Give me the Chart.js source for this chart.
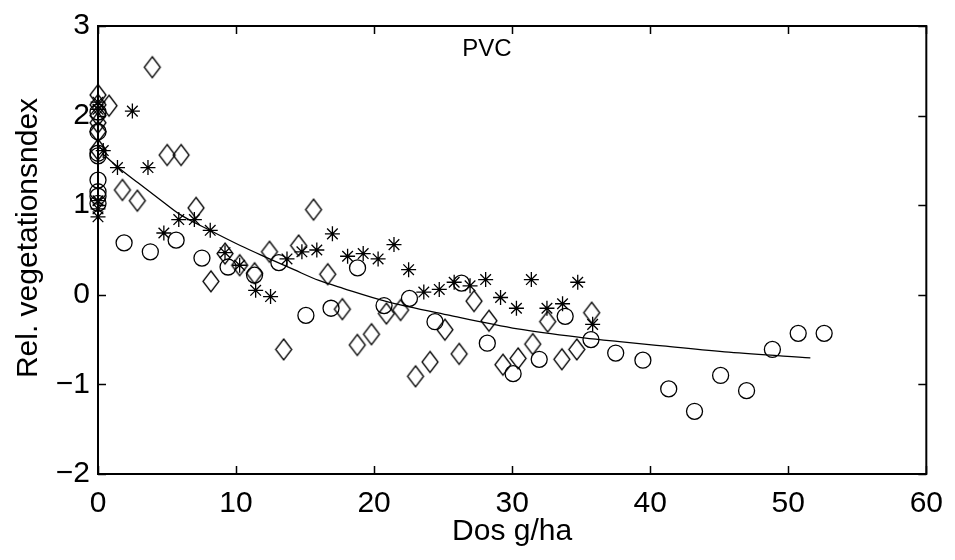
<!DOCTYPE html>
<html>
<head>
<meta charset="utf-8">
<script src="https://cdn.jsdelivr.net/npm/chart.js@4/dist/chart.umd.min.js"></script>
<style>
  html, body { margin: 0; padding: 0; background: #fff; }
  #wrap { width: 955px; height: 560px; position: relative; }
</style>
</head>
<body>
<div id="wrap"><canvas id="c" width="955" height="560"></canvas></div>
<script>
// ---- Data ----
const chartTitle = "PVC";
const xTitle = "Dos g/ha";
const yTitle = "Rel. vegetationsndex";
const xTicks = [0, 10, 20, 30, 40, 50, 60];
const yTicks = [-2, -1, 0, 1, 2, 3];

// Circles (o)
const circleX = [0, 0, 0, 0, 0, 0, 0, 0,
  1.89, 3.79, 5.66, 7.53, 9.42, 11.34, 13.1, 15.06, 16.88, 18.8, 20.72, 22.56, 24.41, 26.33,
  28.2, 30.07, 31.96, 33.84, 35.71, 37.5, 39.47, 41.34, 43.21, 45.1, 46.98, 48.85, 50.72, 52.6];
const circleY = [2.04, 1.82, 1.58, 1.55, 1.28, 1.15, 1.10, 1.02,
  0.58, 0.48, 0.61, 0.41, 0.31, 0.22, 0.36, -0.23, -0.15, 0.30, -0.12, -0.04, -0.30, 0.13,
  -0.54, -0.88, -0.72, -0.24, -0.50, -0.65, -0.73, -1.05, -1.30, -0.90, -1.07, -0.61, -0.43, -0.43];

// Diamonds
const diamondX = [0, 0, 0, 0, 0, 0,
  0.8, 1.77, 2.85, 3.93, 5.01, 6.02, 7.1, 8.18, 9.2, 10.26, 11.34, 12.42, 13.45, 14.53, 15.61,
  16.64, 17.7, 18.78, 19.81, 20.89, 21.92, 23.0, 24.05, 25.13, 26.16, 27.24, 28.32, 29.33,
  30.43, 31.49, 32.57, 33.6, 34.68, 35.76];
const diamondY = [2.23, 2.12, 2.0, 1.92, 1.82, 1.62,
  2.11, 1.17, 1.05, 2.54, 1.56, 1.56, 0.97, 0.15, 0.46, 0.33, 0.24, 0.48, -0.61, 0.55, 0.95,
  0.23, -0.16, -0.56, -0.44, -0.21, -0.17, -0.91, -0.75, -0.39, -0.66, -0.07, -0.29, -0.78,
  -0.71, -0.55, -0.30, -0.72, -0.61, -0.20];

// Asterisks
const starX = [0, 0, 0, 0, 0,
  0.38, 1.41, 2.49, 3.62, 4.77, 5.85, 6.98, 8.13, 9.2, 10.26, 11.42, 12.5, 13.69, 14.77, 15.85,
  16.98, 18.08, 19.21, 20.29, 21.44, 22.5, 23.6, 24.72, 25.8, 26.95, 28.08, 29.16, 30.31,
  31.39, 32.52, 33.65, 34.75, 35.83];
const starY = [2.15, 2.07, 1.05, 0.96, 0.87,
  1.61, 1.42, 2.05, 1.42, 0.69, 0.84, 0.84, 0.72, 0.47, 0.33, 0.05, -0.02, 0.40, 0.48, 0.50,
  0.68, 0.43, 0.46, 0.40, 0.56, 0.28, 0.03, 0.06, 0.14, 0.10, 0.17, -0.03, -0.15,
  0.17, -0.15, -0.10, 0.14, -0.33];

// Fitted curve
const curveX = [0.3, 1.4, 2.9, 4.6, 5.9, 8.1, 10.3, 12.3, 14.2, 16.0, 17.8, 20.8, 25.5, 30.4, 35.2, 37.6, 40.9, 45.7, 51.6];
const curveY = [1.58, 1.43, 1.25, 1.05, 0.90, 0.72, 0.55, 0.41, 0.28, 0.16, 0.07, -0.07, -0.23, -0.38, -0.48, -0.52, -0.57, -0.64, -0.705];

// ---- helpers ----
function pts(xs, ys) { return xs.map((x, i) => ({ x: x, y: ys[i] })); }
function makeDiamond(w, h, lw) {
  const c = document.createElement('canvas');
  c.width = w + 4; c.height = h + 4;
  const g = c.getContext('2d');
  g.strokeStyle = '#000'; g.lineWidth = lw;
  const cx = c.width / 2, cy = c.height / 2;
  g.beginPath();
  g.moveTo(cx, cy - h / 2); g.lineTo(cx + w / 2, cy);
  g.lineTo(cx, cy + h / 2); g.lineTo(cx - w / 2, cy);
  g.closePath(); g.stroke();
  return c;
}
const diamondImg = makeDiamond(16, 21, 1.3);
const FONT = "'Liberation Sans', Arial, Helvetica, sans-serif";

const PLOT = { left: 98, right: 932, top: 21, bottom: 474 };

const framePlugin = {
  id: 'frame',
  afterDraw(chart) {
    const ctx = chart.ctx, a = chart.chartArea;
    const xs = chart.scales.x, ys = chart.scales.y;
    ctx.save();
    ctx.strokeStyle = '#000';
    ctx.lineWidth = 2;
    ctx.strokeRect(a.left, a.top, a.right - a.left, a.bottom - a.top);
    ctx.lineWidth = 1.5;
    const tl = 8;
    ctx.beginPath();
    xTicks.forEach(v => {
      const px = Math.round(xs.getPixelForValue(v)) + 0.5;
      ctx.moveTo(px, a.bottom); ctx.lineTo(px, a.bottom - tl);
      ctx.moveTo(px, a.top); ctx.lineTo(px, a.top + tl);
    });
    yTicks.forEach(v => {
      const py = Math.round(ys.getPixelForValue(v)) + 0.5;
      ctx.moveTo(a.left, py); ctx.lineTo(a.left + tl, py);
      ctx.moveTo(a.right, py); ctx.lineTo(a.right - tl, py);
    });
    ctx.stroke();
    // texts
    ctx.fillStyle = '#000';
    ctx.font = '24px ' + FONT;
    ctx.textAlign = 'center'; ctx.textBaseline = 'middle';
    ctx.fillText(chartTitle, 487, 49);
    ctx.font = '30px ' + FONT;
    ctx.fillText(xTitle, (a.left + a.right) / 2, 532);
    ctx.save();
    ctx.translate(29, 238);
    ctx.rotate(-Math.PI / 2);
    ctx.fillText(yTitle, 0, 0);
    ctx.restore();
    ctx.restore();
  }
};

const common = { borderColor: '#000', backgroundColor: 'rgba(0,0,0,0)', showLine: false, clip: false };

new Chart(document.getElementById('c'), {
  type: 'scatter',
  data: {
    datasets: [
      Object.assign({}, common, { label: 'o', data: pts(circleX, circleY), pointStyle: 'circle', pointRadius: 8, pointBorderWidth: 1.3 }),
      Object.assign({}, common, { label: 'diamond', data: pts(diamondX, diamondY), pointStyle: diamondImg, pointRadius: 10 }),
      Object.assign({}, common, { label: 'star', data: pts(starX, starY), pointStyle: 'star', pointRadius: 7.5, pointBorderWidth: 1.3 }),
      Object.assign({}, common, { label: 'fit', data: pts(curveX, curveY), showLine: true, pointRadius: 0, borderWidth: 1.3, cubicInterpolationMode: 'monotone' })
    ]
  },
  options: {
    responsive: false,
    animation: false,
    events: [],
    layout: { padding: { top: PLOT.top, right: 955 - PLOT.right, left: 0, bottom: 0 } },
    plugins: { legend: { display: false }, tooltip: { enabled: false } },
    scales: {
      x: {
        type: 'linear', min: 0, max: 60,
        afterFit(s) { s.height = 560 - PLOT.bottom; },
        afterBuildTicks(s) { s.ticks = xTicks.map(v => ({ value: v })); },
        ticks: { font: { size: 30, family: FONT }, color: '#000', padding: 12, maxRotation: 0 },
        grid: { display: false, drawTicks: false },
        border: { display: false }
      },
      y: {
        type: 'linear', min: -2, max: 3,
        afterFit(s) { s.width = PLOT.left; },
        afterBuildTicks(s) { s.ticks = yTicks.map(v => ({ value: v })); },
        ticks: { font: { size: 30, family: FONT }, color: '#000', padding: 8,
          callback: v => (v < 0 ? '\u2212' + Math.abs(v) : String(v)) },
        grid: { display: false, drawTicks: false },
        border: { display: false }
      }
    }
  },
  plugins: [framePlugin]
});
</script>
</body>
</html>
